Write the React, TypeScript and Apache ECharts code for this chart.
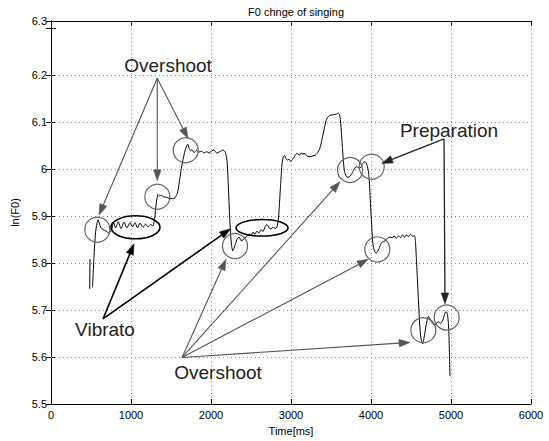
import React, { useEffect, useRef } from "react";
import * as echarts from "echarts";

// F0 contour (time in ms, ln(F0))
const stubTimes = [484, 487];
const stubValues = [5.745, 5.808];

const contourTimes = [
  519, 537, 556, 575, 591, 606, 625, 650, 687, 725, 759,
  779, 809, 841, 875, 913, 950, 988, 1019, 1050, 1081, 1113, 1150, 1184, 1213, 1246, 1275,
  1294, 1309, 1321, 1338, 1356, 1381, 1406, 1444, 1481, 1519, 1550, 1579, 1604, 1625, 1650, 1675, 1694, 1709,
  1725, 1744, 1763, 1788, 1819, 1850, 1881, 1913, 1944, 1975, 2006, 2038, 2069, 2100, 2131, 2156, 2181,
  2200, 2216, 2231, 2246, 2259, 2271, 2288, 2306, 2329, 2350, 2375, 2400, 2425, 2450,
  2475, 2500, 2525, 2550, 2575, 2600, 2625, 2650, 2675, 2700, 2725, 2750, 2775, 2800, 2825,
  2844, 2856, 2871, 2888, 2906, 2919, 2934, 2954, 2975, 2996, 3016, 3038, 3063, 3084, 3104, 3125, 3150, 3175,
  3200, 3225, 3250, 3275, 3300, 3325, 3344, 3363, 3381, 3400, 3419, 3438, 3456, 3481, 3513, 3544, 3569, 3591,
  3606, 3619, 3631, 3644, 3656, 3669, 3688, 3713, 3738, 3763, 3788, 3813, 3831, 3854, 3875, 3894, 3916, 3938,
  3956, 3971, 3984, 3996, 4009, 4019, 4031, 4050, 4071, 4094, 4119, 4144, 4175, 4206, 4238, 4263, 4288, 4319,
  4344, 4369, 4394, 4419, 4444, 4469, 4494, 4519, 4544, 4556, 4566, 4579, 4594, 4609, 4625, 4644, 4663, 4681,
  4700, 4716, 4734, 4754, 4775, 4796, 4819, 4844, 4869, 4894, 4913, 4929, 4944, 4956, 4966, 4975, 4981, 4988,
];
const contourValues = [
  5.748, 5.812, 5.864, 5.885, 5.892, 5.883, 5.875, 5.871, 5.868, 5.864, 5.871,
  5.887, 5.875, 5.888, 5.873, 5.887, 5.875, 5.886, 5.877, 5.886, 5.875, 5.885, 5.876, 5.883, 5.877, 5.882, 5.879,
  5.892, 5.917, 5.934, 5.946, 5.943, 5.944, 5.941, 5.94, 5.937, 5.937, 5.939, 5.948, 5.972, 5.997, 6.02, 6.039, 6.049, 6.053,
  6.045, 6.039, 6.041, 6.035, 6.04, 6.036, 6.038, 6.034, 6.037, 6.034, 6.038, 6.041, 6.034, 6.036, 6.039, 6.04, 6.035,
  6.018, 5.969, 5.906, 5.858, 5.835, 5.826, 5.832, 5.841, 5.852, 5.855, 5.848, 5.849, 5.854, 5.857,
  5.862, 5.859, 5.866, 5.861, 5.868, 5.864, 5.871, 5.867, 5.877, 5.882, 5.875, 5.872, 5.877, 5.873, 5.877,
  5.896, 5.927, 5.969, 6.012, 6.027, 6.029, 6.023, 6.019, 6.021, 6.016, 6.02, 6.025, 6.032, 6.033, 6.029, 6.034, 6.032, 6.033,
  6.028, 6.026, 6.027, 6.028, 6.029, 6.033, 6.038, 6.045, 6.058, 6.073, 6.089, 6.103, 6.109, 6.114, 6.115, 6.116, 6.117, 6.119,
  6.116, 6.102, 6.075, 6.043, 6.014, 5.995, 5.985, 5.982, 5.985, 5.991, 5.999, 6.005, 6.004, 6.002, 6.004, 6.011, 6.015, 6.014,
  6.005, 5.991, 5.959, 5.917, 5.879, 5.849, 5.833, 5.823, 5.822, 5.828, 5.839, 5.845, 5.847, 5.853, 5.855, 5.854, 5.857, 5.853,
  5.858, 5.854, 5.86, 5.855, 5.86, 5.856, 5.861, 5.857, 5.858, 5.845, 5.812, 5.769, 5.717, 5.668, 5.639, 5.628, 5.641, 5.66,
  5.677, 5.686, 5.683, 5.675, 5.671, 5.667, 5.672, 5.675, 5.672, 5.677, 5.687, 5.695, 5.696, 5.689, 5.675, 5.643, 5.601, 5.559,
];

// annotation anchors in data coordinates [time, lnF0]
const overshootCircles = [
  [579, 5.871], [1329, 5.941], [1684, 6.04], [2300, 5.836], [3738, 5.998],
  [4009, 6.005], [4079, 5.829], [4654, 5.657], [4946, 5.684],
];
const vibratoEllipses = [
  [1056, 5.876], [2638, 5.875],
];
// arrows: [fromTime, fromValue, toTime, toValue]
const overshootTopArrows = [
  [1328, 6.193, 600, 5.902],
  [1328, 6.193, 1329, 5.975],
  [1328, 6.193, 1713, 6.065],
];
const overshootBottomArrows = [
  [1638, 5.599, 2188, 5.808],
  [1638, 5.599, 3613, 5.973],
  [1638, 5.599, 3966, 5.808],
  [1638, 5.599, 4488, 5.631],
];
const vibratoArrows = [
  [650, 5.681, 1038, 5.841],
  [650, 5.681, 2244, 5.873],
];
const preparationArrows = [
  [4913, 6.064, 4134, 6.012],
  [4913, 6.064, 4925, 5.713],
];
const annotationLabels = ["Overshoot", "Vibrato", "Overshoot", "Preparation"];
const annotationLabelPos = [
  [1463, 6.22], [675, 5.658], [2088, 5.567], [4975, 6.083],
];

const xTickInterval = 1000;
const yTickInterval = 0.1;
const yMin = 5.5;
const yMax = 6.315;
const yGridValues = [5.6, 5.7, 5.8, 5.9, 6.0, 6.1, 6.2];

function arrowSeries(data: number[][], color: string, width: number) {
  return {
    type: "custom",
    coordinateSystem: "cartesian2d",
    silent: true,
    z: 6,
    data,
    renderItem: (_p: any, api: any) => {
      const a = api.coord([api.value(0), api.value(1)]);
      const b = api.coord([api.value(2), api.value(3)]);
      const dx = b[0] - a[0];
      const dy = b[1] - a[1];
      const len = Math.hypot(dx, dy) || 1;
      const ux = dx / len;
      const uy = dy / len;
      const hl = 11;
      const hw = 3.8;
      const bx = b[0] - ux * hl;
      const by = b[1] - uy * hl;
      return {
        type: "group",
        children: [
          {
            type: "line",
            shape: { x1: a[0], y1: a[1], x2: bx, y2: by },
            style: { stroke: color, lineWidth: width },
          },
          {
            type: "polygon",
            shape: {
              points: [
                [b[0], b[1]],
                [bx - uy * hw, by + ux * hw],
                [bx + uy * hw, by - ux * hw],
              ],
            },
            style: { fill: color, stroke: color, lineWidth: 0.5 },
          },
        ],
      };
    },
  };
}

export default function App() {
  const ref = useRef<HTMLDivElement>(null);
  useEffect(() => {
    document.body.style.margin = "0";
    const chart = echarts.init(ref.current!, null, { renderer: "svg" });
    const font = "'Liberation Sans', Arial, Helvetica, sans-serif";
    const gridStyle = { color: "#888", type: [1, 3], width: 1 };
    const axisCommon = {
      type: "value",
      axisLine: { show: true, lineStyle: { color: "#000", width: 1 } },
      axisTick: { show: true, inside: true, length: 5, lineStyle: { color: "#000" } },
    };
    chart.setOption({
      animation: false,
      backgroundColor: "#fff",
      textStyle: { fontFamily: font },
      title: {
        text: "F0 chnge of singing",
        left: 291,
        top: 1,
        textAlign: "center",
        textStyle: { fontSize: 11, fontWeight: "normal", color: "#000", fontFamily: font },
      },
      grid: { left: 51, right: 18, top: 21, bottom: 33, containLabel: false },
      xAxis: [
        {
          ...axisCommon,
          position: "bottom",
          min: 0,
          max: 6000,
          interval: xTickInterval,
          axisLabel: {
            color: "#000",
            fontSize: 11,
            margin: 5,
            fontFamily: font,
            formatter: (v: number) => String(v),
          },
          splitLine: { show: true, lineStyle: gridStyle },
          name: "Time[ms]",
          nameLocation: "middle",
          nameGap: 21,
          nameTextStyle: { color: "#000", fontSize: 11, fontFamily: font },
        },
        {
          ...axisCommon,
          position: "top",
          min: 0,
          max: 6000,
          interval: xTickInterval,
          axisLabel: { show: false },
          splitLine: { show: false },
        },
      ],
      yAxis: [
        {
          ...axisCommon,
          position: "left",
          min: yMin,
          max: yMax,
          interval: yTickInterval,
          axisLabel: {
            color: "#000",
            fontSize: 11,
            margin: 4,
            fontFamily: font,
            // the axis top (max) is labelled with its value rounded to 0.1
            formatter: (v: number) =>
              v > 6.25 && v < 6.305 ? "" : String(Math.round(v * 10) / 10),
          },
          splitLine: { show: false },
          name: "ln(F0)",
          nameLocation: "middle",
          nameGap: 30,
          nameRotate: 90,
          nameTextStyle: { color: "#000", fontSize: 11, fontFamily: font },
        },
        {
          ...axisCommon,
          position: "right",
          min: yMin,
          max: yMax,
          interval: yTickInterval,
          axisLabel: { show: false },
          splitLine: { show: false },
        },
      ],
      series: [
        {
          type: "line",
          data: stubTimes.map((t, i) => [t, stubValues[i]]),
          showSymbol: false,
          symbol: "none",
          lineStyle: { color: "#000", width: 1 },
          silent: true,
          z: 3,
          markLine: {
            silent: true,
            symbol: ["none", "none"],
            label: { show: false },
            lineStyle: gridStyle,
            z: 1,
            data: yGridValues.map((v) => ({ yAxis: v })),
          },
        },
        {
          type: "line",
          data: contourTimes.map((t, i) => [t, contourValues[i]]),
          showSymbol: false,
          symbol: "none",
          smooth: 0.2,
          lineStyle: { color: "#000", width: 1 },
          silent: true,
          z: 3,
        },
        {
          type: "custom",
          coordinateSystem: "cartesian2d",
          silent: true,
          z: 5,
          data: overshootCircles,
          renderItem: (_p: any, api: any) => {
            const c = api.coord([api.value(0), api.value(1)]);
            return {
              type: "circle",
              shape: { cx: c[0], cy: c[1], r: 12.5 },
              style: { fill: "none", stroke: "#666", lineWidth: 1.2 },
            };
          },
        },
        {
          type: "custom",
          coordinateSystem: "cartesian2d",
          silent: true,
          z: 5,
          data: vibratoEllipses,
          renderItem: (p: any, api: any) => {
            const c = api.coord([api.value(0), api.value(1)]);
            const rx = p.dataIndex === 0 ? 24.5 : 26;
            const ry = p.dataIndex === 0 ? 11.5 : 8.3;
            return {
              type: "ellipse",
              shape: { cx: c[0], cy: c[1], rx, ry },
              style: { fill: "none", stroke: "#000", lineWidth: 1.6 },
            };
          },
        },
        arrowSeries(overshootTopArrows, "#555", 1.1),
        arrowSeries(overshootBottomArrows, "#555", 1.1),
        arrowSeries(vibratoArrows, "#000", 1.6),
        arrowSeries(preparationArrows, "#222", 1.3),
        {
          type: "custom",
          coordinateSystem: "cartesian2d",
          silent: true,
          z: 7,
          data: annotationLabelPos,
          renderItem: (p: any, api: any) => {
            const c = api.coord([api.value(0), api.value(1)]);
            return {
              type: "text",
              x: c[0],
              y: c[1],
              style: {
                text: annotationLabels[p.dataIndex],
                fontSize: 19,
                fontFamily: font,
                fill: "#222",
                align: "center",
                verticalAlign: "middle",
              },
            };
          },
        },
      ],
    });
    return () => chart.dispose();
  }, []);
  return <div ref={ref} style={{ width: 549, height: 441 }} />;
}
